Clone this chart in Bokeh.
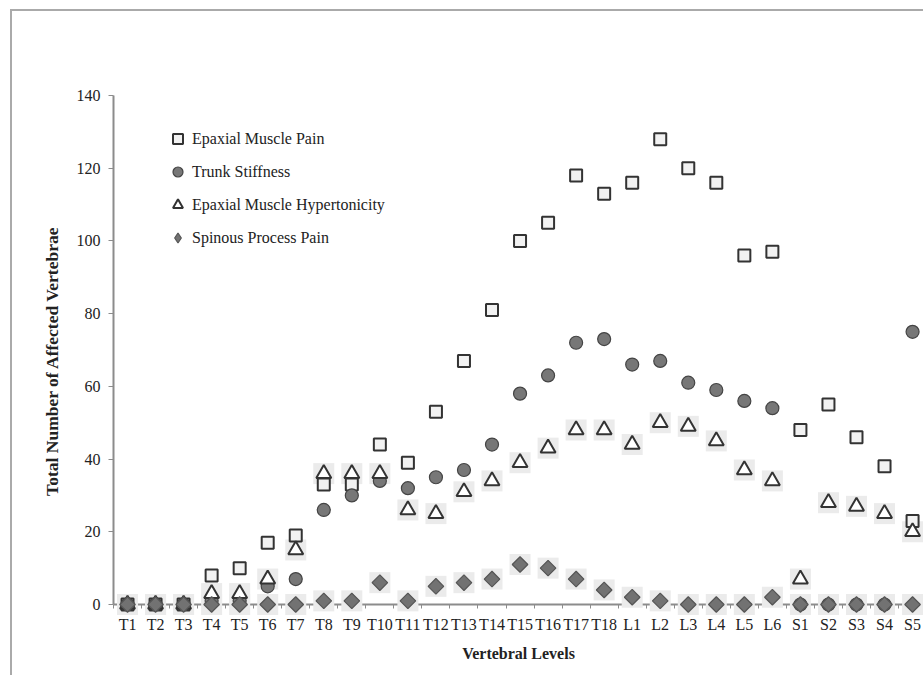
import math
from bokeh.plotting import figure
from bokeh.models import Range1d, FixedTicker, Legend, LegendItem
from bokeh.embed import file_html
from bokeh.resources import INLINE

levels = ["T1", "T2", "T3", "T4", "T5", "T6", "T7", "T8", "T9", "T10", "T11", "T12",
          "T13", "T14", "T15", "T16", "T17", "T18", "L1", "L2", "L3", "L4", "L5", "L6",
          "S1", "S2", "S3", "S4", "S5"]
epaxial_pain = [0, 0, 0, 8, 10, 17, 19, 33, 33, 44, 39, 53, 67, 81, 100, 105, 118, 113,
                116, 128, 120, 116, 96, 97, 48, 55, 46, 38, 23]
trunk_stiffness = [0, 0, 0, 1, 1, 5, 7, 26, 30, 34, 32, 35, 37, 44, 58, 63, 72, 73,
                   66, 67, 61, 59, 56, 54, 0, 0, 0, 0, 75]
hypertonicity = [0, 0, 0, 3, 3, 7, 15, 36, 36, 36, 26, 25, 31, 34, 39, 43, 48, 48,
                 44, 50, 49, 45, 37, 34, 7, 28, 27, 25, 20]
spinous_pain = [0, 0, 0, 0, 0, 0, 0, 1, 1, 6, 1, 5, 6, 7, 11, 10, 7, 4,
                2, 1, 0, 0, 0, 2, 0, 0, 0, 0, 0]
y_ticks = [0, 20, 40, 60, 80, 100, 120, 140]

xs = list(range(1, len(levels) + 1))
FONT = "Liberation Serif"

p = figure(width=923, height=675, output_backend="svg", toolbar_location=None,
           x_range=Range1d(0.5, 29.39), y_range=Range1d(0, 140),
           min_border_left=113, min_border_right=0, min_border_top=95, min_border_bottom=71)
p.border_fill_color = None
p.background_fill_color = "white"
p.outline_line_color = None
p.grid.visible = False
p.styles = {
    "background": "linear-gradient(#aaaaaa,#aaaaaa) 10px 9px / 2px 100% no-repeat, "
                  "linear-gradient(#aaaaaa,#aaaaaa) 10px 9px / 100% 2px no-repeat"
}

# x axis: labels at centres, small ticks at category boundaries
p.xaxis.ticker = FixedTicker(ticks=xs, minor_ticks=[x + 0.5 for x in range(0, len(levels) + 1)])
p.xaxis.major_label_overrides = {x: lab for x, lab in zip(xs, levels)}
p.xaxis.major_tick_out = 0
p.xaxis.major_tick_in = 0
p.xaxis.minor_tick_out = 4
p.xaxis.minor_tick_in = 0
p.xaxis.minor_tick_line_color = "#8c8c8c"
p.xaxis.axis_line_color = "#8c8c8c"
p.xaxis.axis_line_width = 2
p.xaxis.major_label_standoff = 7
p.xaxis.axis_label = "Vertebral Levels"
p.xaxis.axis_label_standoff = 9

p.yaxis.ticker = FixedTicker(ticks=y_ticks)
p.yaxis.minor_tick_line_color = None
p.yaxis.major_tick_out = 5
p.yaxis.major_tick_in = 0
p.yaxis.major_tick_line_color = "#8c8c8c"
p.yaxis.axis_line_color = "#8c8c8c"
p.yaxis.axis_line_width = 2
p.yaxis.major_label_standoff = 8
p.yaxis.axis_label = "Total Number of Affected Vertebrae" + "\u00a0" * 5
p.yaxis.axis_label_standoff = 12

for ax in (p.xaxis, p.yaxis):
    ax.major_label_text_font = FONT
    ax.major_label_text_font_size = "16px"
    ax.major_label_text_color = "#222222"
    ax.axis_label_text_font = FONT
    ax.axis_label_text_font_style = "bold"
    ax.axis_label_text_color = "#222222"
p.xaxis.axis_label_text_font_size = "16px"
p.yaxis.axis_label_text_font_size = "17.5px"

# legend symbol for the diamond series: tiny markers hidden beneath the real ones
r4 = p.scatter(xs, spinous_pain, marker="diamond", size=1,
               fill_color="#727272", line_color="#555555", line_width=1.2)

# light halos behind triangles and diamonds
p.scatter(xs, hypertonicity, marker="square", size=21, fill_color="#ebebeb",
          line_color=None, level="overlay")
p.scatter(xs, spinous_pain, marker="square", size=21, fill_color="#ebebeb",
          line_color=None, level="overlay")

r1 = p.scatter(xs, epaxial_pain, marker="square", size=12, fill_color="#f2f2f2",
               line_color="#333333", line_width=2, level="overlay")
r2 = p.scatter(xs, trunk_stiffness, marker="circle", size=13, fill_color="#777777",
               line_color="#444444", line_width=1.2, level="overlay")
r3 = p.scatter(xs, hypertonicity, marker="triangle", size=15, fill_color="white",
               line_color="#333333", line_width=2, level="overlay")
p.scatter(xs, spinous_pain, marker="square", angle=math.pi / 4, size=11,
          fill_color="#727272", line_color="#555555", line_width=1.2, level="overlay")

legend = Legend(items=[
    LegendItem(label="Epaxial Muscle Pain", renderers=[r1]),
    LegendItem(label="Trunk Stiffness", renderers=[r2]),
    LegendItem(label="Epaxial Muscle Hypertonicity", renderers=[r3]),
    LegendItem(label="Spinous Process Pain", renderers=[r4]),
], location=(52, 354))
legend.glyph_width = 25
legend.glyph_height = 25
legend.label_height = 25
legend.spacing = 8
legend.padding = 0
legend.margin = 0
legend.label_standoff = 2
legend.border_line_color = None
legend.background_fill_alpha = 0
legend.label_text_font = FONT
legend.label_text_font_size = "16px"
legend.label_text_color = "#222222"
p.add_layout(legend, "center")

open("out.html", "w").write(file_html(p, INLINE))
